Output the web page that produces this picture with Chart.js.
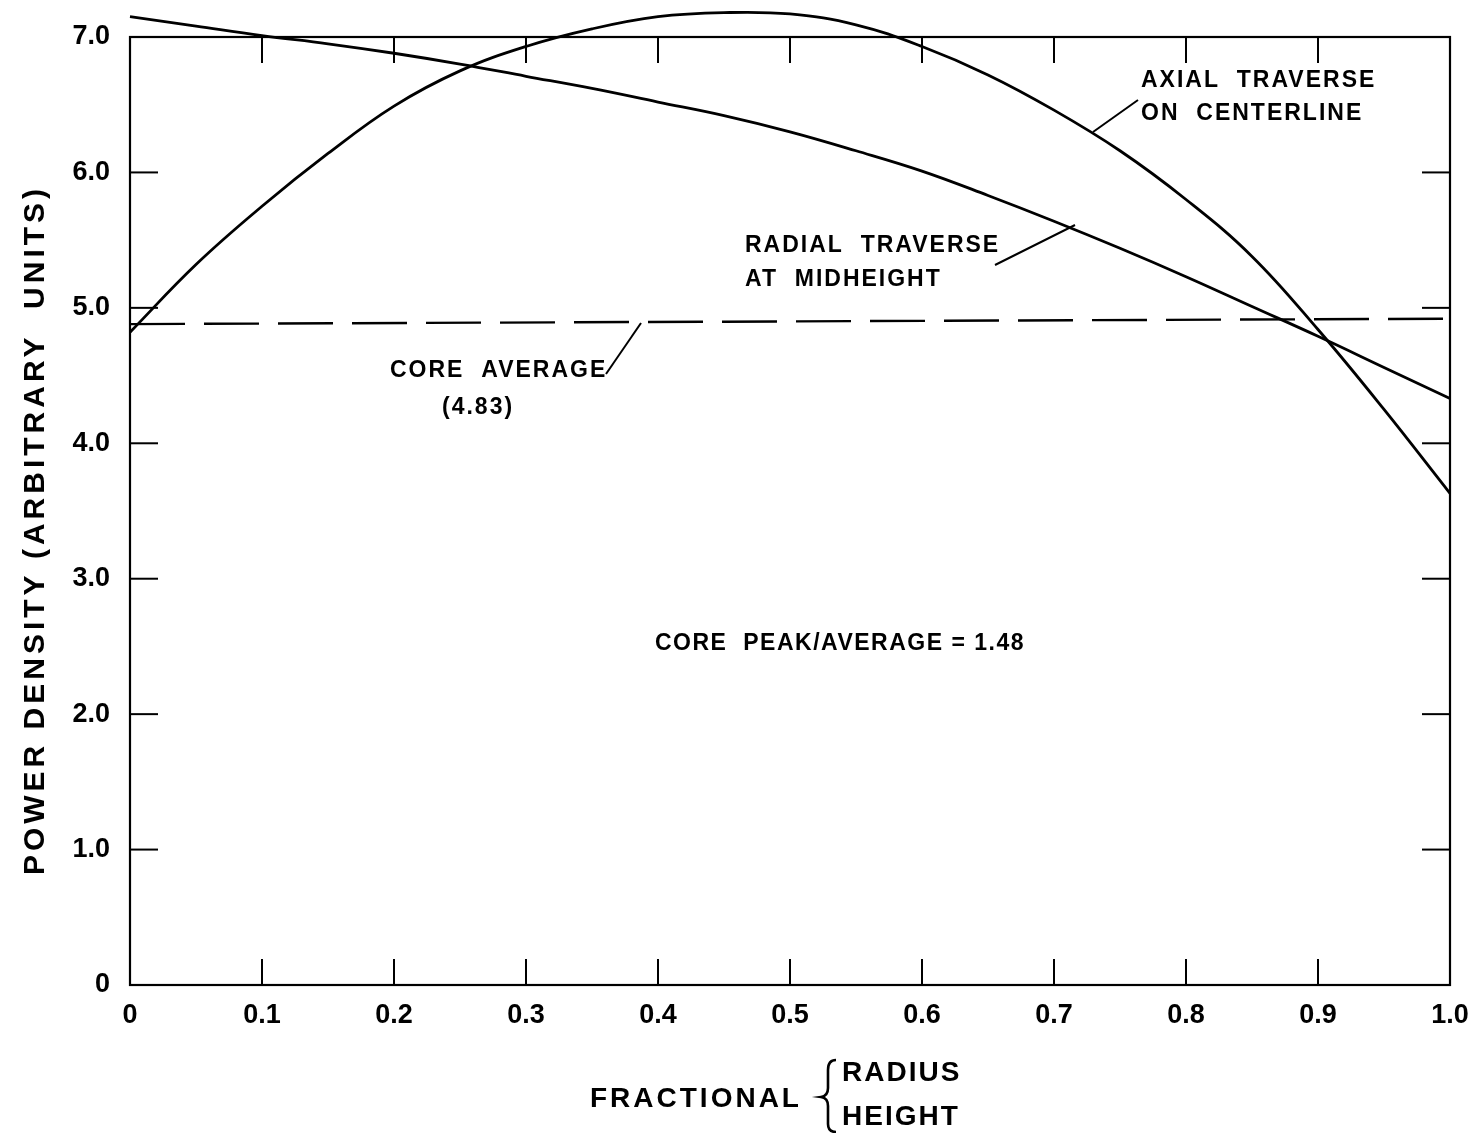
<!DOCTYPE html>
<html>
<head>
<meta charset="utf-8">
<script src="https://cdn.jsdelivr.net/npm/chart.js@4/dist/chart.umd.min.js"></script>
<style>
html,body{margin:0;padding:0;background:#fff;}
#wrap{width:1471px;height:1133px;}
</style>
</head>
<body>
<div id="wrap"><canvas id="c" width="1471" height="1133"></canvas></div>
<script>
// ---- data ----
const xValues = [0,0.05,0.1,0.15,0.2,0.25,0.3,0.35,0.4,0.45,0.5,0.55,0.6,0.65,0.7,0.75,0.8,0.85,0.9,0.95,1.0];
const radialValues = [7.15,7.08,7.01,6.95,6.88,6.80,6.71,6.62,6.52,6.42,6.30,6.16,6.01,5.83,5.64,5.44,5.23,5.01,4.79,4.56,4.33];
const axialValues  = [4.82,5.32,5.75,6.14,6.49,6.75,6.93,7.06,7.15,7.18,7.17,7.09,6.93,6.72,6.46,6.16,5.80,5.38,4.84,4.25,3.63];
const averageX = [0,1.0];
const averageValues = [4.88,4.92];
const xTickValues = [0,0.1,0.2,0.3,0.4,0.5,0.6,0.7,0.8,0.9,1.0];
const yTickValues = [0,1,2,3,4,5,6,7];

const FONT = '"Liberation Sans", Arial, sans-serif';

function pts(xs, ys){ return xs.map((x,i)=>({x:x,y:ys[i]})); }

const decor = {
  id:'decor',
  afterDraw(chart){
    const ctx = chart.ctx, a = chart.chartArea;
    const xs = chart.scales.x, ys = chart.scales.y;
    ctx.save();
    ctx.strokeStyle = '#000';
    ctx.fillStyle = '#000';
    // frame
    ctx.lineWidth = 2.2;
    ctx.strokeRect(a.left, a.top, a.right - a.left, a.bottom - a.top);
    // inward ticks
    ctx.lineWidth = 2;
    const tl = 26;
    xTickValues.forEach(v=>{
      if (v<=0 || v>=1) return;
      const px = xs.getPixelForValue(v);
      ctx.beginPath(); ctx.moveTo(px, a.bottom); ctx.lineTo(px, a.bottom - tl); ctx.stroke();
      ctx.beginPath(); ctx.moveTo(px, a.top); ctx.lineTo(px, a.top + tl); ctx.stroke();
    });
    yTickValues.forEach(v=>{
      if (v<=0 || v>=7) return;
      const py = ys.getPixelForValue(v);
      ctx.beginPath(); ctx.moveTo(a.left, py); ctx.lineTo(a.left + 28, py); ctx.stroke();
      ctx.beginPath(); ctx.moveTo(a.right, py); ctx.lineTo(a.right - 28, py); ctx.stroke();
    });
    // annotations
    ctx.textBaseline = 'middle';
    ctx.textAlign = 'left';
    ctx.font = 'bold 23px ' + FONT;
    ctx.letterSpacing = '2px';
    ctx.fillText('AXIAL  TRAVERSE', 1141, 81);
    ctx.fillText('ON  CENTERLINE', 1141, 114);
    ctx.fillText('RADIAL  TRAVERSE', 745, 246);
    ctx.fillText('AT  MIDHEIGHT', 745, 280);
    ctx.fillText('CORE  AVERAGE', 390, 371);
    ctx.fillText('(4.83)', 442, 408);
    ctx.letterSpacing = '1.5px';
    ctx.fillText('CORE  PEAK/AVERAGE = 1.48', 655, 644);
    // leaders
    ctx.lineWidth = 2;
    [[1093,132,1138,100],[995,265,1075,225],[606,374,641,323]].forEach(l=>{
      ctx.beginPath(); ctx.moveTo(l[0],l[1]); ctx.lineTo(l[2],l[3]); ctx.stroke();
    });
    // y axis title
    ctx.save();
    ctx.translate(36, 530);
    ctx.rotate(-Math.PI/2);
    ctx.textAlign = 'center';
    ctx.font = 'bold 30px ' + FONT;
    ctx.letterSpacing = '4px';
    ctx.fillText('POWER DENSITY (ARBITRARY  UNITS)', 0, 0);
    ctx.restore();
    // x axis title
    ctx.font = 'bold 28px ' + FONT;
    ctx.letterSpacing = '3px';
    ctx.textAlign = 'left';
    ctx.fillText('FRACTIONAL', 590, 1099);
    ctx.letterSpacing = '2px';
    ctx.fillText('RADIUS', 842, 1073);
    ctx.fillText('HEIGHT', 842, 1117);
    // brace
    ctx.lineWidth = 2.6;
    ctx.beginPath();
    ctx.moveTo(836, 1060);
    ctx.quadraticCurveTo(828, 1060, 828, 1070);
    ctx.lineTo(828, 1088);
    ctx.quadraticCurveTo(828, 1096, 821, 1097);
    ctx.quadraticCurveTo(828, 1098, 828, 1106);
    ctx.lineTo(828, 1124);
    ctx.quadraticCurveTo(828, 1132, 836, 1132);
    ctx.stroke();
    ctx.restore();
  }
};

new Chart(document.getElementById('c'), {
  type:'line',
  data:{
    datasets:[
      {label:'Radial traverse at midheight', data:pts(xValues, radialValues), borderColor:'#000', borderWidth:2.8, pointRadius:0, tension:0.4, clip:false, fill:false},
      {label:'Axial traverse on centerline', data:pts(xValues, axialValues), borderColor:'#000', borderWidth:2.8, pointRadius:0, tension:0.4, clip:false, fill:false},
      {label:'Core average', data:pts(averageX, averageValues), borderColor:'#000', borderWidth:2.4, borderDash:[55,19], pointRadius:0, clip:false, fill:false}
    ]
  },
  options:{
    responsive:false,
    animation:false,
    devicePixelRatio:1,
    layout:{padding:{top:37,right:21,left:0,bottom:0}},
    plugins:{legend:{display:false}, tooltip:{enabled:false}},
    scales:{
      x:{
        type:'linear', min:0, max:1,
        afterFit(s){ s.height = 148; s.paddingRight = 0; s.paddingLeft = 0; },
        afterBuildTicks(s){ s.ticks = xTickValues.map(v=>({value:v})); },
        grid:{display:false, drawTicks:false},
        border:{display:false},
        ticks:{
          padding:14, color:'#000', font:{family:FONT, size:27, weight:'bold'},
          maxRotation:0, autoSkip:false,
          callback:(v)=> v===0 ? '0' : Number(v).toFixed(1)
        }
      },
      y:{
        type:'linear', min:0, max:7,
        afterFit(s){ s.width = 130; s.paddingTop = 0; s.paddingBottom = 0; },
        afterBuildTicks(s){ s.ticks = yTickValues.map(v=>({value:v})); },
        grid:{display:false, drawTicks:false},
        border:{display:false},
        ticks:{
          padding:20, color:'#000', font:{family:FONT, size:27, weight:'bold'},
          callback:(v)=> v===0 ? '0' : Number(v).toFixed(1)
        }
      }
    }
  },
  plugins:[decor]
});
</script>
</body>
</html>
